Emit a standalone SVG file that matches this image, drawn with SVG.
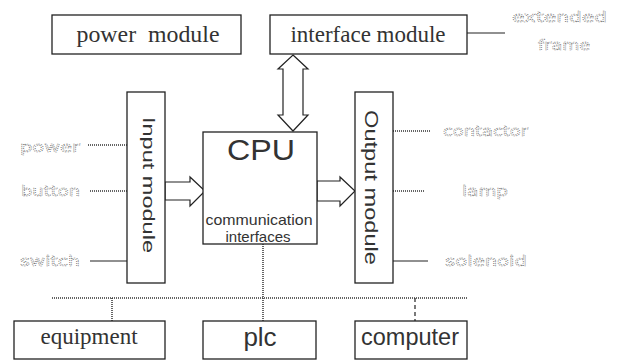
<svg xmlns="http://www.w3.org/2000/svg" width="622" height="360" viewBox="0 0 622 360">
  <style>
    .box { fill: #fff; stroke: #222; stroke-width: 1.3; }
    .serif { font-family: "Liberation Serif", "Times New Roman", serif; fill: #333; }
    .sans { font-family: "Liberation Sans", Arial, sans-serif; fill: #333; }
    .ghost { font-family: "DejaVu Sans", "Liberation Sans", sans-serif; font-size: 14px; fill: #fff; stroke: #666; stroke-width: 0.6; stroke-dasharray: 1 1; }
    .wire { stroke: #222; stroke-width: 1.2; fill: none; }
    .dots { stroke: #333; stroke-width: 1.5; fill: none; stroke-dasharray: 1 1; }
    .block { fill: #fff; stroke: #222; stroke-width: 1.2; stroke-linejoin: miter; }
  </style>

  <rect width="622" height="360" fill="#fff"/>

  <!-- connectors -->
  <g id="connectors">
    <!-- interface module to extended frame -->
    <line class="wire" x1="467" y1="33" x2="505" y2="33"/>
    <!-- input signal lines -->
    <line class="dots" x1="88" y1="145" x2="127" y2="145"/>
    <line class="dots" x1="90" y1="191" x2="127" y2="191"/>
    <line class="wire" x1="90" y1="261" x2="127" y2="261"/>
    <!-- output signal lines -->
    <line class="dots" x1="393" y1="131" x2="430" y2="131"/>
    <line class="dots" x1="393" y1="191" x2="425" y2="191"/>
    <line class="wire" x1="393" y1="261" x2="428" y2="261"/>
    <!-- communication bus -->
    <line class="dots" x1="52" y1="298" x2="467" y2="298"/>
    <line class="dots" x1="263" y1="244" x2="263" y2="321"/>
    <line class="dots" x1="112" y1="298" x2="112" y2="321"/>
    <line class="wire" x1="415" y1="298" x2="415" y2="321" stroke-dasharray="4 3"/>
    <!-- interface module <-> CPU double arrow -->
    <polygon class="block" points="293,55 308,69 303,69 303,115 308,115 293,131 278,115 283,115 283,69 278,69"/>
    <!-- input module -> CPU -->
    <polygon class="block" points="165,182 190,182 190,177 205,191 190,206 190,200 165,200"/>
    <!-- CPU -> output module -->
    <polygon class="block" points="317,181 340,181 340,177 355,191 340,206 340,201 317,201"/>
  </g>

  <g id="power-module">
    <rect class="box" x="52" y="15" width="189" height="39"/>
    <text class="serif" x="148" y="42" font-size="23" text-anchor="middle" textLength="143" lengthAdjust="spacingAndGlyphs" xml:space="preserve">power  module</text>
  </g>

  <g id="interface-module">
    <rect class="box" x="270" y="15" width="197" height="39"/>
    <text class="serif" x="368" y="42" font-size="23" text-anchor="middle">interface module</text>
  </g>

  <g id="extended-frame">
    <text class="ghost" x="512" y="22" textLength="95" lengthAdjust="spacingAndGlyphs">extended</text>
    <text class="ghost" x="538" y="50" textLength="52" lengthAdjust="spacingAndGlyphs">frame</text>
  </g>

  <g id="input-module">
    <rect class="box" x="127" y="92" width="38" height="191"/>
    <text class="sans" transform="translate(143,185) rotate(90)" font-size="17" text-anchor="middle" textLength="136" lengthAdjust="spacingAndGlyphs">Input module</text>
  </g>

  <g id="cpu">
    <rect class="box" x="203" y="132" width="114" height="112"/>
    <text class="sans" x="261" y="160" font-size="29" text-anchor="middle" textLength="68" lengthAdjust="spacingAndGlyphs">CPU</text>
    <text class="sans" x="259" y="225" font-size="15" text-anchor="middle" textLength="107" lengthAdjust="spacingAndGlyphs">communication</text>
    <text class="sans" x="258" y="242" font-size="15" text-anchor="middle">interfaces</text>
  </g>

  <g id="output-module">
    <rect class="box" x="355" y="92" width="38" height="191"/>
    <text class="sans" transform="translate(365,187.5) rotate(90)" font-size="18" text-anchor="middle" textLength="155" lengthAdjust="spacingAndGlyphs">Output module</text>
  </g>

  <g id="input-labels">
    <text class="ghost" x="20" y="152" textLength="60" lengthAdjust="spacingAndGlyphs">power</text>
    <text class="ghost" x="21" y="196" textLength="59" lengthAdjust="spacingAndGlyphs">button</text>
    <text class="ghost" x="20" y="266" textLength="60" lengthAdjust="spacingAndGlyphs">switch</text>
  </g>

  <g id="output-labels">
    <text class="ghost" x="443" y="136" textLength="85" lengthAdjust="spacingAndGlyphs">contactor</text>
    <text class="ghost" x="462" y="196" textLength="46" lengthAdjust="spacingAndGlyphs">lamp</text>
    <text class="ghost" x="445" y="266" textLength="82" lengthAdjust="spacingAndGlyphs">solenoid</text>
  </g>

  <g id="equipment">
    <rect class="box" x="14" y="321" width="151" height="38"/>
    <text class="serif" x="89" y="344" font-size="23" text-anchor="middle">equipment</text>
  </g>

  <g id="plc">
    <rect class="box" x="203" y="321" width="113" height="38"/>
    <text class="sans" x="260" y="346" font-size="26" text-anchor="middle">plc</text>
  </g>

  <g id="computer">
    <rect class="box" x="355" y="321" width="112" height="38"/>
    <text class="sans" x="410" y="345" font-size="23.5" text-anchor="middle">computer</text>
  </g>
</svg>
